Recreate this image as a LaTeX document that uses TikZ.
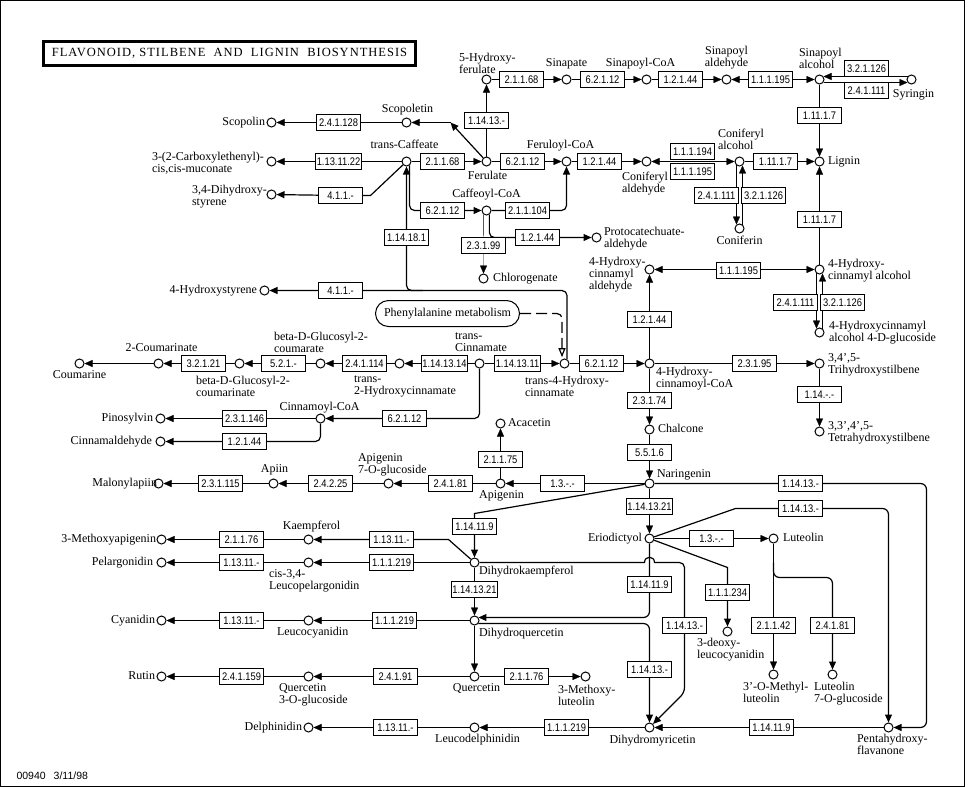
\documentclass[tikz,border=0pt]{standalone}
\usepackage{fontspec}
\setmainfont{Liberation Serif}
\newfontfamily\ecfont[FakeStretch=0.85]{Liberation Sans}
\newfontfamily\mapfont{Liberation Sans}
\usetikzlibrary{arrows.meta}
\pgfdeclarelayer{edges}
\pgfsetlayers{edges,main}

\begin{document}
\begin{tikzpicture}[x=1pt, y=-1pt, line width=1pt,
    cpd/.style={circle, draw, fill=white, minimum size=9pt, inner sep=0pt},
    ec/.style={rectangle, draw, fill=white, minimum width=44pt, minimum height=16pt,
               inner xsep=1pt, inner ysep=0pt, font=\ecfont\fontsize{11}{11}\selectfont},
    lab/.style={inner sep=0pt, text height=8.5pt, text depth=2.5pt, font=\fontsize{12}{12}\selectfont},
    lab2/.style={inner sep=0pt, align=left, font=\fontsize{12}{12}\selectfont},
    arr/.style={-{Triangle[length=8pt,width=7pt]}},
    arrs/.style={{Triangle[length=8pt,width=7pt]}-{Triangle[length=8pt,width=7pt]}},
    soft/.style={line width=1.2pt},
    pmlink/.style={dash pattern=on 11pt off 5pt, -{Triangle[open,length=9pt,width=7pt]}, shorten >=2pt},
    pmap/.style={draw, fill=white, rounded corners=13pt, minimum width=144pt, minimum height=26pt,
                 font=\fontsize{12}{12}\selectfont}]
    \useasboundingbox (0,0) rectangle (972,787);
    \draw (0.5,0.5) rectangle (964.5,786.5);
    \node[draw, line width=3pt, minimum width=372pt, minimum height=24pt, inner sep=0pt,
          font=\fontsize{12.5}{12.5}\selectfont\addfontfeature{LetterSpace=8}] (title) at (229.5,53.5)
          {FLAVONOID, STILBENE\ \ AND\ \ LIGNIN\ \ BIOSYNTHESIS};
    \node[anchor=west, inner sep=0pt, font=\mapfont\fontsize{10.5}{10.5}\selectfont] (mapno) at (16,776)
          {00940\hspace{8pt}3/11/98};

    \begin{scope}[xshift=0.5pt, yshift=-0.5pt]
    % compounds
    \node[cpd] (hferul) at (486,79) {};
    \node[cpd] (sinapate) at (566,79) {};
    \node[cpd] (sinapcoa) at (646,79) {};
    \node[cpd] (sinapald) at (726,79) {};
    \node[cpd] (sinapalc) at (819,79) {};
    \node[cpd] (syringin) at (911,79) {};
    \node[cpd] (scopolin) at (271,122) {};
    \node[cpd] (scopoletin) at (406,122) {};
    \node[cpd] (carbmuc) at (271,161) {};
    \node[cpd] (tcaf) at (406,161) {};
    \node[cpd] (ferulate) at (486,161) {};
    \node[cpd] (ferucoa) at (566,161) {};
    \node[cpd] (conald) at (646,161) {};
    \node[cpd] (conalc) at (739,161) {};
    \node[cpd] (lignin) at (819,161) {};
    \node[cpd] (dhstyr) at (271,194) {};
    \node[cpd] (caffcoa) at (486,210) {};
    \node[cpd] (protald) at (596,237) {};
    \node[cpd] (chlorog) at (483,278) {};
    \node[cpd] (coniferin) at (739,228) {};
    \node[cpd] (hcald) at (649,269) {};
    \node[cpd] (hcalc) at (819,269) {};
    \node[cpd] (hcglc) at (819,332) {};
    \node[cpd] (hstyr) at (264,290) {};
    \node[cpd] (coumarine) at (79,363) {};
    \node[cpd] (coumarinate) at (158,363) {};
    \node[cpd] (glcmarinate) at (239,363) {};
    \node[cpd] (glcmarate) at (320,363) {};
    \node[cpd] (thcin) at (399,363) {};
    \node[cpd] (tcin) at (479,363) {};
    \node[cpd] (tpcou) at (564,363) {};
    \node[cpd] (hccoa) at (649,363) {};
    \node[cpd] (trihs) at (819,363) {};
    \node[cpd] (tetrahs) at (819,431) {};
    \node[cpd] (cincoa) at (320,418) {};
    \node[cpd] (pinosylvin) at (160,418) {};
    \node[cpd] (cinald) at (160,441) {};
    \node[cpd] (chalcone) at (649,429) {};
    \node[cpd] (acacetin) at (500,423) {};
    \node[cpd] (naringenin) at (649,483) {};
    \node[cpd] (malapiin) at (158,483) {};
    \node[cpd] (apiin) at (273,483) {};
    \node[cpd] (apiglc) at (388,483) {};
    \node[cpd] (apigenin) at (500,483) {};
    \node[cpd] (methapi) at (161,539) {};
    \node[cpd] (kaempferol) at (308,539) {};
    \node[cpd] (pelarg) at (161,562) {};
    \node[cpd] (leucopel) at (308,562) {};
    \node[cpd] (dhk) at (474,562) {};
    \node[cpd] (eriod) at (649,538) {};
    \node[cpd] (luteolin) at (773,538) {};
    \node[cpd] (deoxyleu) at (727,631) {};
    \node[cpd] (dhq) at (474,620) {};
    \node[cpd] (cyanidin) at (161,620) {};
    \node[cpd] (leucocy) at (308,620) {};
    \node[cpd] (quercetin) at (474,676) {};
    \node[cpd] (querglc) at (308,676) {};
    \node[cpd] (rutin) at (161,676) {};
    \node[cpd] (methlut) at (585,676) {};
    \node[cpd] (omelut) at (773,674) {};
    \node[cpd] (lutglc) at (832,674) {};
    \node[cpd] (delph) at (308,727) {};
    \node[cpd] (leucodel) at (474,727) {};
    \node[cpd] (dhm) at (649,727) {};
    \node[cpd] (penta) at (888,727) {};
    \node[pmap] (phemet) at (447,313) {Phenylalanine metabolism};

    % enzymes
    \node[ec] (e01) at (521,79) {2.1.1.68};
    \node[ec] (e02) at (602,79) {6.2.1.12};
    \node[ec] (e03) at (680,79) {1.2.1.44};
    \node[ec] (e04) at (770,79) {1.1.1.195};
    \node[ec] (e05) at (866,68) {3.2.1.126};
    \node[ec] (e06) at (866,90) {2.4.1.111};
    \node[ec] (e07) at (819,115) {1.11.1.7};
    \node[ec] (e08) at (338,122) {2.4.1.128};
    \node[ec] (e09) at (486,120) {1.14.13.-};
    \node[ec] (e10) at (338,161) {1.13.11.22};
    \node[ec] (e11) at (442,161) {2.1.1.68};
    \node[ec] (e12) at (522,161) {6.2.1.12};
    \node[ec] (e13) at (599,161) {1.2.1.44};
    \node[ec] (e14) at (692,151) {1.1.1.194};
    \node[ec] (e15) at (692,171) {1.1.1.195};
    \node[ec] (e16) at (775,161) {1.11.1.7};
    \node[ec] (e17) at (340,195) {4.1.1.-};
    \node[ec] (e18) at (442,210) {6.2.1.12};
    \node[ec] (e19) at (527,210) {2.1.1.104};
    \node[ec] (e20) at (716,195) {2.4.1.111};
    \node[ec] (e21) at (763,195) {3.2.1.126};
    \node[ec] (e22) at (819,219) {1.11.1.7};
    \node[ec] (e23) at (406,237) {1.14.18.1};
    \node[ec] (e24) at (483,245) {2.3.1.99};
    \node[ec] (e25) at (537,237) {1.2.1.44};
    \node[ec] (e26) at (738,270) {1.1.1.195};
    \node[ec] (e27) at (340,290) {4.1.1.-};
    \node[ec] (e28) at (795,302) {2.4.1.111};
    \node[ec] (e29) at (842,302) {3.2.1.126};
    \node[ec] (e30) at (649,319) {1.2.1.44};
    \node[ec] (e31) at (203,363) {3.2.1.21};
    \node[ec] (e32) at (283,363) {5.2.1.-};
    \node[ec] (e33) at (364,363) {2.4.1.114};
    \node[ec] (e34) at (444,363) {1.14.13.14};
    \node[ec] (e35) at (517,363) {1.14.13.11};
    \node[ec] (e36) at (601,363) {6.2.1.12};
    \node[ec] (e37) at (754,363) {2.3.1.95};
    \node[ec] (e38) at (819,394) {1.14.-.-};
    \node[ec] (e39) at (649,400) {2.3.1.74};
    \node[ec] (e40) at (244,418) {2.3.1.146};
    \node[ec] (e41) at (404,418) {6.2.1.12};
    \node[ec] (e42) at (244,441) {1.2.1.44};
    \node[ec] (e43) at (649,452) {5.5.1.6};
    \node[ec] (e44) at (500,459) {2.1.1.75};
    \node[ec] (e45) at (220,483) {2.3.1.115};
    \node[ec] (e46) at (330,483) {2.4.2.25};
    \node[ec] (e47) at (450,483) {2.4.1.81};
    \node[ec] (e48) at (562,483) {1.3.-.-};
    \node[ec] (e49) at (800,483) {1.14.13.-};
    \node[ec] (e50) at (649,506) {1.14.13.21};
    \node[ec] (e51) at (800,508) {1.14.13.-};
    \node[ec] (e52) at (474,526) {1.14.11.9};
    \node[ec] (e53) at (241,539) {2.1.1.76};
    \node[ec] (e54) at (391,539) {1.13.11.-};
    \node[ec] (e55) at (711,538) {1.3.-.-};
    \node[ec] (e56) at (241,562) {1.13.11.-};
    \node[ec] (e57) at (391,562) {1.1.1.219};
    \node[ec] (e58) at (649,584) {1.14.11.9};
    \node[ec] (e59) at (474,589) {1.14.13.21};
    \node[ec] (e60) at (727,592) {1.1.1.234};
    \node[ec] (e61) at (241,620) {1.13.11.-};
    \node[ec] (e62) at (394,620) {1.1.1.219};
    \node[ec] (e63) at (684,625) {1.14.13.-};
    \node[ec] (e64) at (773,625) {2.1.1.42};
    \node[ec] (e65) at (832,625) {2.4.1.81};
    \node[ec] (e66) at (649,669) {1.14.13.-};
    \node[ec] (e67) at (241,676) {2.4.1.159};
    \node[ec] (e68) at (395,676) {2.4.1.91};
    \node[ec] (e69) at (526,676) {2.1.1.76};
    \node[ec] (e70) at (395,727) {1.13.11.-};
    \node[ec] (e71) at (566,727) {1.1.1.219};
    \node[ec] (e72) at (771,727) {1.14.11.9};

    % compound names
    \node[lab2, anchor=west] (lhferul) at (458,62.5) {5-Hydroxy-\\ferulate};
    \node[lab] (lsinapate) at (566,63) {Sinapate};
    \node[lab] (lsinapcoa) at (640,63) {Sinapoyl-CoA};
    \node[lab2, align=center] (lsinapald) at (726,57.5) {Sinapoyl\\aldehyde};
    \node[lab2, anchor=west] (lsinapalc) at (798,57.5) {Sinapoyl\\alcohol};
    \node[lab] (lsyringin) at (913,94) {Syringin};
    \node[lab] (lscopoletin) at (407,109) {Scopoletin};
    \node[lab, anchor=east] (lscopolin) at (265,122) {Scopolin};
    \node[lab] (ltcaf) at (404,145) {trans-Caffeate};
    \node[lab2, anchor=west] (lcarbmuc) at (151,162.5) {3-(2-Carboxylethenyl)-\\cis,cis-muconate};
    \node[lab2, anchor=west] (ldhstyr) at (191,196) {3,4-Dihydroxy-\\styrene};
    \node[lab] (lferulate) at (487,176) {Ferulate};
    \node[lab] (lferucoa) at (560,145) {Feruloyl-CoA};
    \node[lab2, anchor=west] (lconald) at (621,183) {Coniferyl\\aldehyde};
    \node[lab2, anchor=west] (lconalc) at (717,139) {Coniferyl\\alcohol};
    \node[lab, anchor=west] (llignin) at (827,161) {Lignin};
    \node[lab] (lcaffcoa) at (486,194) {Caffeoyl-CoA};
    \node[lab2, anchor=west] (lprotald) at (603,238) {Protocatechuate-\\aldehyde};
    \node[lab, anchor=west] (lchlorog) at (492,278) {Chlorogenate};
    \node[lab] (lconiferin) at (739,241) {Coniferin};
    \node[lab2, anchor=west] (lhcald) at (588,274) {4-Hydroxy-\\cinnamyl\\aldehyde};
    \node[lab2, anchor=west] (lhcalc) at (827,270) {4-Hydroxy-\\cinnamyl alcohol};
    \node[lab2, anchor=west] (lhcglc) at (828,332) {4-Hydroxycinnamyl\\alcohol 4-D-glucoside};
    \node[lab, anchor=east] (lhstyr) at (257,290) {4-Hydroxystyrene};
    \node[lab] (lcoumarinate) at (161,348) {2-Coumarinate};
    \node[lab] (lcoumarine) at (79,375) {Coumarine};
    \node[lab2, anchor=west] (lglcmarinate) at (195,386) {beta-D-Glucosyl-2-\\coumarinate};
    \node[lab2, anchor=west] (lglcmarate) at (273,342) {beta-D-Glucosyl-2-\\coumarate};
    \node[lab2, anchor=west] (lthcin) at (353,386) {trans-\\2-Hydroxycinnamate};
    \node[lab2, anchor=west] (ltcin) at (454,342) {trans-\\Cinnamate};
    \node[lab2, anchor=west] (ltpcou) at (524,386) {trans-4-Hydroxy-\\cinnamate};
    \node[lab2, anchor=west] (lhccoa) at (655,378) {4-Hydroxy-\\cinnamoyl-CoA};
    \node[lab2, anchor=west] (ltrihs) at (827,364) {3,4',5-\\Trihydroxystilbene};
    \node[lab2, anchor=west] (ltetrahs) at (827,432) {3,3',4',5-\\Tetrahydroxystilbene};
    \node[lab] (lcincoa) at (319,407) {Cinnamoyl-CoA};
    \node[lab, anchor=east] (lpinosylvin) at (153,418) {Pinosylvin};
    \node[lab, anchor=east] (lcinald) at (152,441) {Cinnamaldehyde};
    \node[lab, anchor=west] (lchalcone) at (657,429) {Chalcone};
    \node[lab, anchor=west] (lacacetin) at (507,423) {Acacetin};
    \node[lab, anchor=west] (lnaringenin) at (656,474) {Naringenin};
    \node[lab] (lapigenin) at (501,495) {Apigenin};
    \node[lab2, anchor=west] (lapiglc) at (357,464) {Apigenin\\7-O-glucoside};
    \node[lab] (lapiin) at (274,469) {Apiin};
    \node[lab, anchor=east] (lmalapiin) at (157,483) {Malonylapiin};
    \node[lab] (lkaempferol) at (311,526) {Kaempferol};
    \node[lab, anchor=east] (lmethapi) at (156,539) {3-Methoxyapigenin};
    \node[lab, anchor=east] (lpelarg) at (153,562) {Pelargonidin};
    \node[lab2, anchor=west] (lleucopel) at (268,580) {cis-3,4-\\Leucopelargonidin};
    \node[lab, anchor=west] (ldhk) at (478,571) {Dihydrokaempferol};
    \node[lab, anchor=east] (leriod) at (642,538) {Eriodictyol};
    \node[lab, anchor=west] (lluteolin) at (782,538) {Luteolin};
    \node[lab2, anchor=west] (ldeoxyleu) at (696,649) {3-deoxy-\\leucocyanidin};
    \node[lab, anchor=west] (ldhq) at (478,633) {Dihydroquercetin};
    \node[lab, anchor=west] (lleucocy) at (276,632) {Leucocyanidin};
    \node[lab, anchor=east] (lcyanidin) at (155,620) {Cyanidin};
    \node[lab] (lquercetin) at (476,688) {Quercetin};
    \node[lab2, anchor=west] (lquerglc) at (278,694.5) {Quercetin\\3-O-glucoside};
    \node[lab, anchor=east] (lrutin) at (155,676) {Rutin};
    \node[lab2, anchor=west] (lmethlut) at (557,695) {3-Methoxy-\\luteolin};
    \node[lab2, anchor=west] (lomelut) at (742,692) {3'-O-Methyl-\\luteolin};
    \node[lab2, anchor=west] (llutglc) at (813,693) {Luteolin\\7-O-glucoside};
    \node[lab2, anchor=west] (lpenta) at (856,744) {Pentahydroxy-\\flavanone};
    \node[lab] (ldhm) at (652,740) {Dihydromyricetin};
    \node[lab] (lleucodel) at (477,739) {Leucodelphinidin};
    \node[lab, anchor=east] (ldelph) at (302,727) {Delphinidin};

    \begin{pgfonlayer}{edges}
    \draw[arr] (hferul) -- (e01) -- (sinapate);
    \draw[arr] (sinapate) -- (e02) -- (sinapcoa);
    \draw[arr] (sinapcoa) -- (e03) -- (sinapald);
    \draw[arrs] (sinapald) -- (sinapalc);
    \draw[arr] (syringin.143) -- (sinapalc.37);
    \draw[arr] (sinapalc.-37) -- (syringin.-143);
    \draw[arr] (sinapalc) -- (e07) -- (lignin);
    \draw[arr] (scopoletin) -- (e08) -- (scopolin);
    \coordinate (fs) at (450,122);
    \draw[arr, soft] (ferulate) -- (fs);
    \draw[arr] (fs) -- (scopoletin);
    \draw[arr] (ferulate) -- (e09) -- (hferul);
    \draw[arr] (tcaf) -- (e10) -- (carbmuc);
    \draw[arr] (tcaf) -- (e11) -- (ferulate);
    \draw[arr] (ferulate) -- (e12) -- (ferucoa);
    \draw[arr] (ferucoa) -- (e13) -- (conald);
    \draw[arrs] (conald) -- (conalc);
    \draw[arr] (conalc) -- (e16) -- (lignin);
    \draw[arr] (conalc.233) -- (coniferin.127);
    \draw[arr] (coniferin.53) -- (conalc.-53);
    \draw[arr] (hcalc) -- (e22) -- (lignin);
    \coordinate (cs) at (370,195);
    \draw[arr, soft] (tcaf) -- (cs) -- (e17) -- (dhstyr);
    \draw[arr, soft, rounded corners=5pt] (tcaf.-53) |- (e18) -- (caffcoa);
    \draw[arr, soft, rounded corners=5pt] (caffcoa) -- (e19) -| (ferucoa);
    \draw[arr] (caffcoa.235) -- (e24) -- (chlorog);
    \draw[arr, soft, rounded corners=5pt] (caffcoa.-55) |- (e25) -- (protald);
    \draw[arr, soft, rounded corners=5pt] (tpcou.60) |- (e27) -- (hstyr);
    \coordinate (hj) at (422,290);
    \draw[arr, soft, rounded corners=5pt] (hj) -| (e23) -- (tcaf);
    \draw[pmlink, soft, rounded corners=5pt] (phemet) -| (tpcou.120);
    \draw[arr] (tcin) -- (e35) -- (tpcou);
    \draw[arr] (tpcou) -- (e36) -- (hccoa);
    \draw[arr] (hccoa) -- (e30) -- (hcald);
    \draw[arrs] (hcald) -- (hcalc);
    \draw[arr] (hcalc.233) -- (hcglc.127);
    \draw[arr] (hcglc.53) -- (hcalc.-53);
    \draw[arr] (hccoa) -- (e37) -- (trihs);
    \draw[arr] (trihs) -- (e38) -- (tetrahs);
    \draw[arr] (tcin) -- (e34) -- (thcin);
    \draw[arr] (thcin) -- (e33) -- (glcmarate);
    \draw[arr] (glcmarate) -- (e32) -- (glcmarinate);
    \draw[arr] (glcmarinate) -- (e31) -- (coumarinate);
    \draw[arr] (coumarinate) -- (coumarine);
    \draw[arr, soft, rounded corners=5pt] (tcin) |- (e41) -- (cincoa);
    \draw[arr] (cincoa) -- (e40) -- (pinosylvin);
    \draw[arr, soft, rounded corners=5pt] (cincoa) |- (e42) -- (cinald);
    \draw[arr] (hccoa) -- (e39) -- (chalcone);
    \draw[arr] (chalcone) -- (e43) -- (naringenin);
    \draw[arr] (naringenin) -- (e48) -- (apigenin);
    \draw[arr] (apigenin) -- (e44) -- (acacetin);
    \draw[arr] (apigenin) -- (e47) -- (apiglc);
    \draw[arr] (apiglc) -- (e46) -- (apiin);
    \draw[arr] (apiin) -- (e45) -- (malapiin);
    \coordinate (nk) at (474,513);
    \draw[arr, soft] (naringenin) -- (nk) -- (e52) -- (dhk);
    \coordinate (np) at (926,483);
    \draw[arr, soft, rounded corners=6pt] (naringenin) -- (e49) -- (np) |- (penta);
    \coordinate (ep) at (735,508);
    \draw[soft] (eriod) -- (ep) -- (e51);
    \draw[arr, soft, rounded corners=6pt] (e51) -| (penta);
    \draw[arr] (naringenin) -- (e50) -- (eriod);
    \draw[arr] (eriod) -- (e55) -- (luteolin);
    \coordinate (ed) at (727,567);
    \draw[arr, soft] (eriod) -- (ed) -- (e60) -- (deoxyleu);
    \draw[arr] (luteolin) -- (e64) -- (omelut);
    \coordinate (lb) at (773,562);
    \coordinate (lc) at (800,577);
    \draw[arr, soft, rounded corners=6pt] (lb) |- (lc) -| (e65) -- (lutglc);
    \draw[arr, soft, rounded corners=6pt] (eriod) -- (e58) |- (dhq.37);
    \draw[arr, soft, rounded corners=6pt] (dhq.-37) -| (e66) -- (dhm);
    \coordinate (h1) at (644,562);
    \coordinate (h2) at (654,562);
    \coordinate (k1) at (684,562);
    \coordinate (k2) at (684,692);
    \draw[arr, soft] (dhk) -- (h1) .. controls +(0,-7) and +(0,-7) .. (h2)
        [rounded corners=5pt] -- (k1) -- (e63) -- (k2) -- (dhm);
    \draw[arr] (dhk) -- (e57) -- (leucopel);
    \draw[arr] (leucopel) -- (e56) -- (pelarg);
    \coordinate (dk) at (448,539);
    \draw[arr, soft] (dhk) -- (dk) -- (e54) -- (kaempferol);
    \draw[arr] (kaempferol) -- (e53) -- (methapi);
    \draw[arr] (dhk) -- (e59) -- (dhq);
    \draw[arr] (dhq) -- (e62) -- (leucocy);
    \draw[arr] (leucocy) -- (e61) -- (cyanidin);
    \draw[arr] (dhq) -- (quercetin);
    \draw[arr] (quercetin) -- (e68) -- (querglc);
    \draw[arr] (querglc) -- (e67) -- (rutin);
    \draw[arr] (quercetin) -- (e69) -- (methlut);
    \draw[arr] (dhm) -- (e71) -- (leucodel);
    \draw[arr] (leucodel) -- (e70) -- (delph);
    \draw[arr] (penta) -- (e72) -- (dhm);
    \end{pgfonlayer}
    \end{scope}
\end{tikzpicture}
\end{document}
